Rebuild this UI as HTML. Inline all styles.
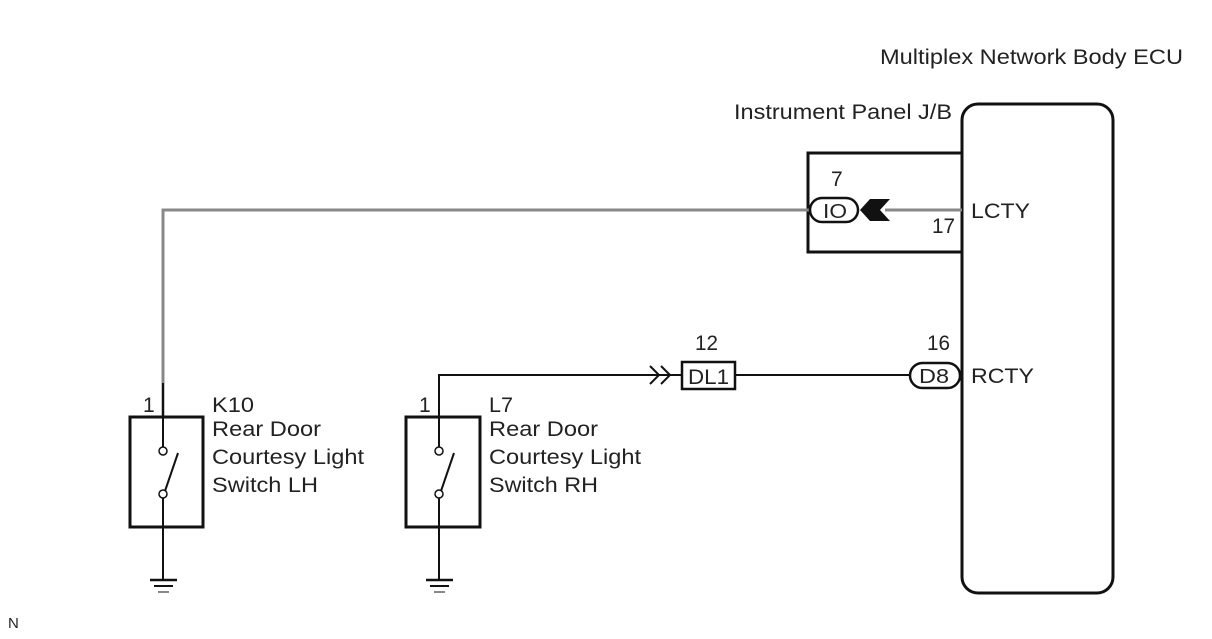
<!DOCTYPE html>
<html><head><style>
body{margin:0;background:#fff}
svg text{font-family:"Liberation Sans",Arial,sans-serif;fill:#222}
</style></head><body>
<svg width="1212" height="634" viewBox="0 0 1212 634" xmlns="http://www.w3.org/2000/svg">
<g font-size="21">
<text x="880" y="64" textLength="303" lengthAdjust="spacingAndGlyphs">Multiplex Network Body ECU</text>
<text x="734" y="119" textLength="218" lengthAdjust="spacingAndGlyphs">Instrument Panel J/B</text>
<text x="971" y="218" textLength="59" lengthAdjust="spacingAndGlyphs">LCTY</text>
<text x="971" y="383" textLength="63" lengthAdjust="spacingAndGlyphs">RCTY</text>
<text x="932" y="233" textLength="23" lengthAdjust="spacingAndGlyphs">17</text>
<text x="831" y="186">7</text>
<text x="927" y="350" textLength="23" lengthAdjust="spacingAndGlyphs">16</text>
<text x="695" y="350" textLength="23" lengthAdjust="spacingAndGlyphs">12</text>
<text x="143" y="412">1</text>
<text x="419" y="412">1</text>
<text x="212" y="412" textLength="42" lengthAdjust="spacingAndGlyphs">K10</text>
<text x="212" y="436" textLength="109" lengthAdjust="spacingAndGlyphs">Rear Door</text>
<text x="212" y="464" textLength="152" lengthAdjust="spacingAndGlyphs">Courtesy Light</text>
<text x="212" y="492" textLength="106" lengthAdjust="spacingAndGlyphs">Switch LH</text>
<text x="489" y="412" textLength="24" lengthAdjust="spacingAndGlyphs">L7</text>
<text x="489" y="436" textLength="109" lengthAdjust="spacingAndGlyphs">Rear Door</text>
<text x="489" y="464" textLength="152" lengthAdjust="spacingAndGlyphs">Courtesy Light</text>
<text x="489" y="492" textLength="109" lengthAdjust="spacingAndGlyphs">Switch RH</text>
</g>
<text x="8" y="628" font-size="15">N</text>
<rect x="962" y="104" width="151" height="489" rx="16" fill="none" stroke="#111" stroke-width="3"/>
<path d="M962 153 H808 V252 H962" fill="none" stroke="#111" stroke-width="3"/>
<path d="M163 417 V210 H810" fill="none" stroke="#888" stroke-width="3"/>
<line x1="885" y1="210" x2="962" y2="210" stroke="#888" stroke-width="3"/>
<rect x="810" y="198" width="48" height="24" rx="12" fill="#fff" stroke="#111" stroke-width="2.5"/>
<text x="823" y="218" font-size="20" textLength="24" lengthAdjust="spacingAndGlyphs">IO</text>
<path d="M860 210 L870 199 H890 L880 210 L890 221 H870 Z" fill="#111"/>
<path d="M439 417 V375 H682" fill="none" stroke="#111" stroke-width="2"/>
<path d="M650 366 L659 375 L650 384 M661 366 L670 375 L661 384" fill="none" stroke="#111" stroke-width="2"/>
<rect x="682" y="362" width="53" height="27" fill="#fff" stroke="#111" stroke-width="2.5"/>
<text x="688" y="384" font-size="21" textLength="41" lengthAdjust="spacingAndGlyphs">DL1</text>
<line x1="735" y1="375" x2="910" y2="375" stroke="#111" stroke-width="2"/>
<rect x="910" y="363" width="50" height="25" rx="12.5" fill="#fff" stroke="#111" stroke-width="2.5"/>
<text x="919" y="383" font-size="20" textLength="30" lengthAdjust="spacingAndGlyphs">D8</text>
<g fill="none" stroke="#111">
<rect x="130" y="417" width="73" height="110" stroke-width="3"/>
<rect x="406" y="417" width="74" height="110" stroke-width="3"/>
<line x1="163" y1="383" x2="163" y2="447" stroke-width="2"/>
<line x1="163" y1="494" x2="163" y2="580" stroke-width="2"/>
<line x1="439" y1="417" x2="439" y2="447" stroke-width="2"/>
<line x1="439" y1="494" x2="439" y2="580" stroke-width="2"/>
<line x1="165" y1="491" x2="178" y2="453" stroke-width="2"/>
<line x1="441" y1="491" x2="454" y2="453" stroke-width="2"/>
<line x1="150" y1="580" x2="177" y2="580" stroke-width="2.5"/>
<line x1="154" y1="586" x2="173" y2="586" stroke-width="2"/>
<line x1="158" y1="592" x2="169" y2="592" stroke="#888" stroke-width="2"/>
<line x1="426" y1="580" x2="453" y2="580" stroke-width="2.5"/>
<line x1="430" y1="586" x2="449" y2="586" stroke-width="2"/>
<line x1="434" y1="592" x2="445" y2="592" stroke="#888" stroke-width="2"/>
</g>
<g fill="#fff" stroke="#111" stroke-width="1.5">
<circle cx="163" cy="451" r="4"/><circle cx="163" cy="494" r="4"/>
<circle cx="439" cy="451" r="4"/><circle cx="439" cy="494" r="4"/>
</g>
</svg>
</body></html>
